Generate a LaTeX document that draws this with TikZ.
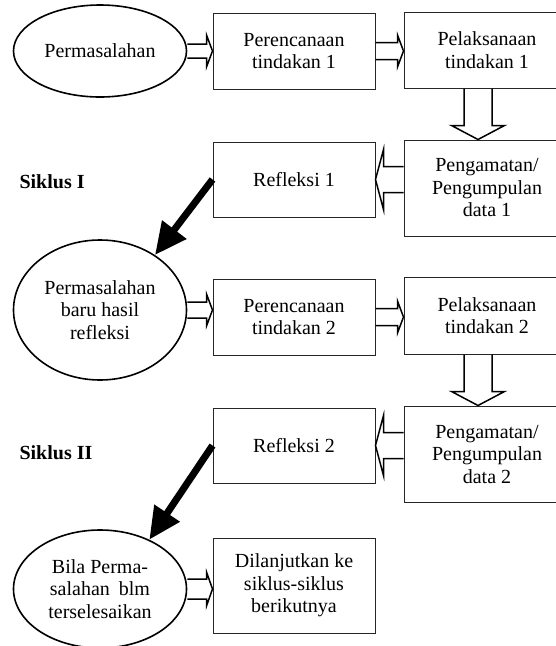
\documentclass[tikz,border=0pt]{standalone}
\usepackage{fontspec}
\setmainfont{Liberation Serif}
\usetikzlibrary{shapes.geometric,arrows.meta,calc}

\tikzset{
  teks/.style={font=\fontsize{20}{22.5}\selectfont, align=center},
  kotak/.style={teks, draw=black!85, line width=1pt, inner sep=2pt},
  elips/.style={teks, ellipse, draw, line width=1.6pt, inner sep=0pt, minimum width=173pt},
  garis panah/.style={line width=1.5pt, line join=miter},
  panah tebal/.style={line width=7pt, -{Triangle[length=32pt,width=29pt]}},
}

% panah kosong ke kanan: node asal, node tujuan, setengah batang, setengah kepala
\newcommand{\panahkanan}[4]{%
  \draw[garis panah] let \p1=(#1.east), \p2=(#2.west) in
    (\x1,\y1+#3) -- (\x2-6pt,\y1+#3) -- (\x2-6pt,\y1+#4)
    -- (\x2,\y1) -- (\x2-6pt,\y1-#4) -- (\x2-6pt,\y1-#3) -- (\x1,\y1-#3);}
% panah kosong ke kiri
\newcommand{\panahkiri}[4]{%
  \draw[garis panah] let \p1=(#1.west), \p2=(#2.east) in
    (\x1,\y2+#3) -- (\x2+8pt,\y2+#3) -- (\x2+8pt,\y2+#4)
    -- (\x2,\y2) -- (\x2+8pt,\y2-#4) -- (\x2+8pt,\y2-#3) -- (\x1,\y2-#3);}
% panah kosong ke bawah
\newcommand{\panahbawah}[4]{%
  \draw[garis panah] let \p1=($(#1.south)+(-9,0)$), \p2=(#2.north) in
    (\x1-#3,\y1) -- (\x1-#3,\y2+14pt) -- (\x1-#4,\y2+14pt)
    -- (\x1,\y2) -- (\x1+#4,\y2+14pt) -- (\x1+#3,\y2+14pt) -- (\x1+#3,\y1);}

\begin{document}
\begin{tikzpicture}[x=1pt,y=-1pt]
    \useasboundingbox (0,0) rectangle (555,646);

    % Siklus I
    \node[elips, minimum height=92pt] (masalah1) at (100,51) {Permasalahan};
    \node[kotak, minimum width=162pt, minimum height=76pt] (rencana1) at (294,51) {Perencanaan\\tindakan 1};
    \node[kotak, minimum width=166pt, minimum height=76pt] (laksana1) at (487,50) {Pelaksanaan\\tindakan 1};
    \node[kotak, minimum width=166pt, minimum height=96pt] (amati1) at (487,188) {Pengamatan/\\Pengumpulan\\data 1};
    \node[kotak, minimum width=162pt, minimum height=75pt] (refleksi1) at (294,179.5) {Refleksi 1};
    \node[teks, anchor=west, font=\fontsize{20}{22.5}\selectfont\bfseries] (siklus1) at (16,182) {Siklus I};

    % Siklus II
    \node[elips, minimum height=140pt] (masalah2) at (100,310) {Permasalahan\\baru hasil\\refleksi};
    \node[kotak, minimum width=162pt, minimum height=76pt] (rencana2) at (294,317) {Perencanaan\\tindakan 2};
    \node[kotak, minimum width=166pt, minimum height=77pt] (laksana2) at (487,315.5) {Pelaksanaan\\tindakan 2};
    \node[kotak, minimum width=166pt, minimum height=96pt] (amati2) at (487,454) {Pengamatan/\\Pengumpulan\\data 2};
    \node[kotak, minimum width=162pt, minimum height=75pt] (refleksi2) at (294,445.5) {Refleksi 2};
    \node[teks, anchor=west, font=\fontsize{20}{22.5}\selectfont\bfseries] (siklus2) at (16,453) {Siklus II};

    % Lanjutan
    \node[elips, minimum height=118pt] (masalah3) at (100,589) {Bila Perma-\\salahan\hspace{0.45em}blm\\terselesaikan};
    \node[kotak, minimum width=162pt, minimum height=95pt] (lanjut) at (294,585.5) {Dilanjutkan ke\\siklus-siklus\\berikutnya};

    % Panah kosong
    \panahkanan{masalah1}{rencana1}{7pt}{16pt}
    \panahkanan{rencana1}{laksana1}{8.5pt}{16pt}
    \panahbawah{laksana1}{amati1}{14pt}{26.5pt}
    \panahkiri{amati1}{refleksi1}{13pt}{30pt}
    \panahkanan{masalah2}{rencana2}{8pt}{16pt}
    \panahkanan{rencana2}{laksana2}{8.5pt}{16pt}
    \panahbawah{laksana2}{amati2}{14pt}{26.5pt}
    \panahkiri{amati2}{refleksi2}{13pt}{30pt}
    \panahkanan{masalah3}{lanjut}{10pt}{17pt}

    % Panah tebal
    \draw[panah tebal] (refleksi1.west) -- (masalah2.45);
    \draw[panah tebal] (refleksi2.west) -- (masalah3.45);
\end{tikzpicture}
\end{document}
